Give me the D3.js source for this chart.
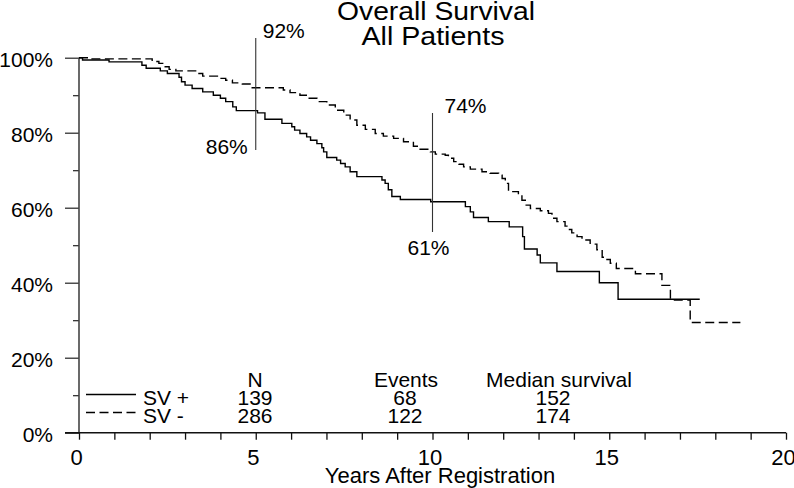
<!DOCTYPE html>
<html>
<head>
<meta charset="utf-8">
<script src="https://cdn.jsdelivr.net/npm/d3@7"></script>
<style>
  html, body { margin: 0; padding: 0; background: #fff; }
  svg { display: block; font-family: "Liberation Sans", Arial, sans-serif; }
</style>
</head>
<body>
<svg id="chart" width="794" height="488"></svg>
<script>
// ---- data ----
const titleLines = ["Overall Survival", "All Patients"];
const xLabel = "Years After Registration";
const xMajorTicks = [0, 5, 10, 15, 20];
const yMajorTicks = [0, 20, 40, 60, 80, 100];
const yMinorTicks = [10, 30, 50, 70, 90];

// SV + (solid) Kaplan-Meier steps: time (years), survival (%)
const svPlusTime = [0, 0.1, 0.85, 1.78, 1.9, 2.3, 2.5, 2.83, 2.9, 3.0, 3.2, 3.5, 3.8, 4.0, 4.15, 4.35, 4.45,
  5.05, 5.26, 5.74, 6.02, 6.1, 6.25, 6.44, 6.55, 6.73, 6.87, 6.92, 7.01, 7.29, 7.4, 7.53, 7.67, 7.86,
  8.57, 8.66, 8.75, 8.85, 9.09, 9.95, 10.93, 11.07, 11.16, 11.58, 12.17, 12.55, 12.6, 12.96, 13.05,
  13.52, 14.72, 15.25, 17.56];
const svPlusSurv = [100, 99.4, 98.9, 98.0, 97.2, 96.5, 95.8, 94.8, 93.6, 92.7, 91.8, 90.9, 90.0, 89.2, 88.3, 86.9, 85.9,
  85.3, 83.6, 82.5, 81.6, 80.7, 79.8, 78.9, 78.0, 77.1, 76.0, 74.9, 73.4, 72.7, 71.8, 70.9, 69.6, 68.3,
  67.4, 66.5, 64.8, 63.0, 62.2, 61.6, 60.3, 58.9, 57.4, 56.3, 54.9, 52.3, 49.0, 47.4, 45.3,
  43.0, 40.0, 35.6, 35.6];

// SV - (dashed)
const svMinusTime = [0, 0.3, 2.07, 2.26, 2.4, 2.55, 2.74, 3.3, 3.5, 3.96, 4.15, 4.34, 4.62, 4.9,
  5.78, 5.97, 6.25, 6.49, 6.73, 7.01, 7.25, 7.49, 7.67, 7.86, 8.1, 8.38, 8.61, 8.9, 9.18, 9.46, 9.65, 9.94,
  10.08, 10.36, 10.45, 10.6, 10.75, 10.88, 11.07, 11.4, 11.63, 11.87, 11.97, 12.06, 12.15, 12.43, 12.53,
  12.65, 12.77, 13.05, 13.28, 13.38, 13.52, 13.75, 13.85, 13.94, 14.09, 14.23, 14.46, 14.65, 14.8, 14.9,
  15.03, 15.2, 15.74, 16.49, 16.73, 17.29, 18.71];
const svMinusSurv = [100, 99.7, 99.0, 98.5, 97.6, 96.9, 96.5, 95.8, 95.1, 94.5, 94.0, 93.3, 93.0, 92.0,
  91.4, 90.7, 90.0, 89.2, 88.3, 87.4, 86.0, 84.7, 83.4, 82.0, 80.9, 79.8, 79.1, 78.5, 77.6, 76.4, 75.6, 74.9,
  74.3, 74.0, 73.2, 72.3, 71.6, 70.9, 70.3, 69.6, 69.2, 68.7, 67.8, 66.5, 64.3, 63.4, 62.0,
  60.7, 59.8, 59.2, 58.5, 57.2, 56.3, 55.1, 54.2, 53.3, 52.3, 51.4, 50.3, 48.8, 46.8, 46.2,
  45.2, 43.8, 42.4, 39.3, 35.4, 29.4, 29.4];

// landmark annotations
const markYears = [5, 10];
const markUpper = ["92%", "74%"];
const markLower = ["86%", "61%"];

// legend table
const groupNames = ["SV +", "SV -"];
const tableHeaders = ["N", "Events", "Median survival"];
const nValues = ["139", "286"];
const eventValues = ["68", "122"];
const medianValues = ["152", "174"];

// ---- drawing ----
const svg = d3.select("#chart");
const x = d3.scaleLinear().domain([0, 20]).range([79, 786]);
const y = d3.scaleLinear().domain([0, 100]).range([432.7, 57.7]);

// title
svg.append("text").attr("x", 436).attr("y", 20).attr("text-anchor", "middle")
  .attr("font-size", 26).attr("textLength", 198).attr("lengthAdjust", "spacingAndGlyphs").text(titleLines[0]);
svg.append("text").attr("x", 433).attr("y", 45).attr("text-anchor", "middle")
  .attr("font-size", 26).attr("textLength", 143).attr("lengthAdjust", "spacingAndGlyphs").text(titleLines[1]);

// y axis (major + minor)
const yMajor = d3.axisLeft(y).tickValues(yMajorTicks).tickSize(14).tickFormat(d => d + "%");
const yMinor = d3.axisLeft(y).tickValues(yMinorTicks).tickSize(6).tickFormat("");
const gy = svg.append("g").attr("transform", `translate(${x(0)},0)`).call(yMajor);
const gy2 = svg.append("g").attr("transform", `translate(${x(0)},0)`).call(yMinor);
[gy, gy2].forEach(g => {
  g.select(".domain").remove();
  g.selectAll(".tick line").attr("stroke", "#222").attr("stroke-width", 1.2);
});
gy.selectAll(".tick text").attr("font-size", 21).attr("font-family", "Liberation Sans, Arial, sans-serif")
  .attr("fill", "#000").attr("x", -26).attr("dy", "0.42em");
svg.append("line").attr("x1", x(0)).attr("x2", x(0)).attr("y1", y(100)).attr("y2", y(0))
  .attr("stroke", "#444").attr("stroke-width", 1.6);

// x axis
const xAxis = d3.axisBottom(x).tickValues(d3.range(0, 21)).tickSize(7)
  .tickFormat(d => xMajorTicks.includes(d) ? d : "");
const gx = svg.append("g").attr("transform", `translate(0,${y(0)})`).call(xAxis);
gx.select(".domain").remove();
gx.selectAll(".tick line").attr("stroke", "#111").attr("stroke-width", 1.3);
gx.selectAll(".tick text").attr("font-size", 22).attr("font-family", "Liberation Sans, Arial, sans-serif")
  .attr("fill", "#000").attr("x", -3).attr("y", 32).attr("dy", 0);
svg.append("line").attr("x1", 65).attr("x2", x(20)).attr("y1", y(0)).attr("y2", y(0))
  .attr("stroke", "#111").attr("stroke-width", 1.4);

svg.append("text").attr("x", 440).attr("y", 483).attr("text-anchor", "middle")
  .attr("font-size", 22).text(xLabel);

// curves
const line = d3.line().x(d => x(d[0])).y(d => y(d[1])).curve(d3.curveStepAfter);
const plusData = svPlusTime.map((t, i) => [t, svPlusSurv[i]]);
const minusData = svMinusTime.map((t, i) => [t, svMinusSurv[i]]);
svg.append("path").attr("d", line(minusData)).attr("fill", "none").attr("stroke", "#000")
  .attr("stroke-width", 1.4).attr("stroke-dasharray", "9,4.5");
svg.append("path").attr("d", line(plusData)).attr("fill", "none").attr("stroke", "#000")
  .attr("stroke-width", 1.4);

// landmark lines
const markTop = [38, 113];
const markBottom = [150, 232];
markYears.forEach((yr, i) => {
  svg.append("line").attr("x1", x(yr)).attr("x2", x(yr)).attr("y1", markTop[i]).attr("y2", markBottom[i])
    .attr("stroke", "#333").attr("stroke-width", 1.1);
});
svg.append("text").attr("x", x(5) + 7).attr("y", 38).attr("font-size", 21).text(markUpper[0]);
svg.append("text").attr("x", x(5) - 8).attr("y", 154).attr("text-anchor", "end").attr("font-size", 21).text(markLower[0]);
svg.append("text").attr("x", x(10) + 12).attr("y", 113).attr("font-size", 21).text(markUpper[1]);
svg.append("text").attr("x", x(10) - 4).attr("y", 255).attr("text-anchor", "middle").attr("font-size", 21).text(markLower[1]);

// legend table
const rowY = [405, 423];
const headY = 387;
const colX = [255, 406, 559];
const valX = [255, 405, 553];
tableHeaders.forEach((h, i) => {
  svg.append("text").attr("x", colX[i]).attr("y", headY).attr("text-anchor", "middle").attr("font-size", 21).text(h);
});
groupNames.forEach((g, i) => {
  svg.append("line").attr("x1", 86).attr("x2", 136).attr("y1", rowY[i] - 10.5).attr("y2", rowY[i] - 10.5)
    .attr("stroke", "#000").attr("stroke-width", 1.3).attr("stroke-dasharray", i === 1 ? "9,4.5" : null);
  svg.append("text").attr("x", 143).attr("y", rowY[i]).attr("font-size", 21).text(g);
  svg.append("text").attr("x", valX[0]).attr("y", rowY[i]).attr("text-anchor", "middle").attr("font-size", 21).text(nValues[i]);
  svg.append("text").attr("x", valX[1]).attr("y", rowY[i]).attr("text-anchor", "middle").attr("font-size", 21).text(eventValues[i]);
  svg.append("text").attr("x", valX[2]).attr("y", rowY[i]).attr("text-anchor", "middle").attr("font-size", 21).text(medianValues[i]);
});
</script>
</body>
</html>
